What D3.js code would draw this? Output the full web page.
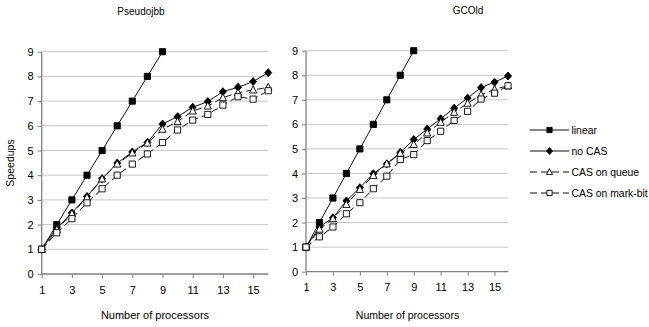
<!DOCTYPE html>
<html>
<head>
<meta charset="utf-8">
<script src="https://cdn.jsdelivr.net/npm/d3@7"></script>
<style>
  body { margin: 0; background: #fff; }
  text { font-family: "Liberation Sans", Arial, sans-serif; fill: #000; }
</style>
</head>
<body>
<svg id="chart" width="649" height="327"></svg>
<script>
// processors 1..16
const procs = d3.range(1, 17);
const xTicks = [1, 3, 5, 7, 9, 11, 13, 15];
const yTicks = [0, 1, 2, 3, 4, 5, 6, 7, 8, 9];

const seriesNames = ['linear', 'no CAS', 'CAS on queue', 'CAS on mark-bit'];

// Pseudojbb
const pjLinear = [1, 2, 3, 4, 5, 6, 7, 8, 9];
const pjNoCas = [1, 1.86, 2.47, 3.14, 3.86, 4.49, 4.94, 5.33, 6.07, 6.37, 6.75, 6.98, 7.38, 7.56, 7.79, 8.15];
const pjQueue = [1, 1.8, 2.45, 3.1, 3.85, 4.45, 4.9, 5.3, 5.86, 6.17, 6.6, 6.8, 7.14, 7.34, 7.45, 7.56];
const pjMarkBit = [1, 1.67, 2.24, 2.88, 3.45, 4.0, 4.45, 4.86, 5.32, 5.83, 6.23, 6.46, 6.84, 7.18, 7.08, 7.42];

// GCOld
const gcLinear = [1, 2, 3, 4, 5, 6, 7, 8, 9];
const gcNoCas = [1, 1.82, 2.2, 2.88, 3.42, 3.99, 4.39, 4.86, 5.38, 5.81, 6.23, 6.66, 7.07, 7.5, 7.72, 7.97];
const gcQueue = [1, 1.73, 2.16, 2.74, 3.35, 3.92, 4.39, 4.82, 5.18, 5.65, 6.08, 6.49, 6.86, 7.2, 7.43, 7.57];
const gcMarkBit = [1, 1.42, 1.82, 2.36, 2.81, 3.38, 3.89, 4.57, 4.77, 5.34, 5.72, 6.16, 6.53, 7.03, 7.27, 7.57];

const svg = d3.select('#chart');

const styles = [
  { marker: 'square', fill: '#000', dash: null },
  { marker: 'diamond', fill: '#000', dash: null },
  { marker: 'triangle', fill: '#fff', dash: '7,4' },
  { marker: 'square', fill: '#fff', dash: '7,4' }
];

function markerPath(type, s) {
  s = s || 1;
  if (type === 'square') return d3.symbol(d3.symbolSquare, 38 * s * s)();
  if (type === 'diamond') return `M0,${-4 * s}L${3.5 * s},0L0,${4 * s}L${-3.5 * s},0Z`;
  return `M0,${-4 * s}L${3.6 * s},${3 * s}L${-3.6 * s},${3 * s}Z`;
}

function drawPanel(cfg) {
  const x = d3.scaleLinear().domain([1, 16]).range([cfg.x0, cfg.x1]);
  const y = d3.scaleLinear().domain([0, 9]).range([cfg.y0, cfg.y1]);
  const g = svg.append('g');

  // grid
  g.selectAll('line.grid')
    .data(yTicks.filter(d => d > 0))
    .join('line')
    .attr('x1', x(1)).attr('x2', x(16))
    .attr('y1', d => y(d)).attr('y2', d => y(d))
    .attr('stroke', '#c8c8c8').attr('stroke-width', 1);

  // axes
  const ya = g.append('g')
    .attr('transform', `translate(${x(1)},0)`)
    .call(d3.axisLeft(y).tickValues(yTicks).tickSize(4).tickPadding(4).tickFormat(d3.format('d')));
  const xa = g.append('g')
    .attr('transform', `translate(0,${y(0)})`)
    .call(d3.axisBottom(x).tickValues(xTicks).tickSize(4).tickPadding(8).tickFormat(d3.format('d')));
  [ya, xa].forEach(a => {
    a.select('.domain').attr('stroke', '#808080').attr('stroke-width', 1.3);
    a.selectAll('.tick line').attr('stroke', '#808080');
    a.selectAll('text').attr('font-size', 11).attr('fill', '#000')
      .attr('font-family', '"Liberation Sans", Arial, sans-serif');
  });
  xa.select('.domain').attr('d', `M${x(1)},0H${x(16)}`);
  ya.select('.domain').attr('d', `M0,${y(0)}V${y(9)}`);

  const line = d3.line().x(d => x(d[0])).y(d => y(d[1]));

  cfg.series.forEach((vals, i) => {
    const pts = vals.map((v, j) => [j + 1, v]);
    const st = styles[i];
    g.append('path')
      .attr('d', line(pts))
      .attr('fill', 'none')
      .attr('stroke', '#111')
      .attr('stroke-width', 1)
      .attr('stroke-dasharray', st.dash);
  });
  cfg.series.forEach((vals, i) => {
    const pts = vals.map((v, j) => [j + 1, v]);
    const st = styles[i];
    g.selectAll(null)
      .data(pts)
      .join('path')
      .attr('transform', d => `translate(${x(d[0])},${y(d[1])})`)
      .attr('d', markerPath(st.marker))
      .attr('fill', st.fill)
      .attr('stroke', '#000')
      .attr('stroke-width', 0.9);
  });

  g.append('text')
    .attr('x', cfg.titleX).attr('y', cfg.titleY)
    .attr('text-anchor', 'middle').attr('font-size', 10)
    .text(cfg.title);
  g.append('text')
    .attr('x', cfg.xTitleX).attr('y', 319)
    .attr('text-anchor', 'middle').attr('font-size', cfg.xTitleSize)
    .text('Number of processors');
}

drawPanel({
  title: 'Pseudojbb', titleX: 141, titleY: 15, xTitleX: 155, xTitleSize: 11,
  x0: 41.7, x1: 268.2, y0: 274, y1: 51.7,
  series: [pjLinear, pjNoCas, pjQueue, pjMarkBit]
});
drawPanel({
  title: 'GCOld', titleX: 468, titleY: 14, xTitleX: 407.5, xTitleSize: 10.5,
  x0: 306, x1: 508, y0: 271.7, y1: 50.7,
  series: [gcLinear, gcNoCas, gcQueue, gcMarkBit]
});

svg.append('text')
  .attr('transform', 'translate(14,163) rotate(-90)')
  .attr('text-anchor', 'middle').attr('font-size', 10.5)
  .text('Speedups');

// legend
const legY = [130, 151, 172, 193];
const leg = svg.append('g');
seriesNames.forEach((name, i) => {
  const st = styles[i];
  const row = leg.append('g').attr('transform', `translate(0,${legY[i]})`);
  row.append('line')
    .attr('x1', 530).attr('x2', 569).attr('y1', 0).attr('y2', 0)
    .attr('stroke', '#111').attr('stroke-width', 1)
    .attr('stroke-dasharray', st.dash);
  row.append('path')
    .attr('transform', 'translate(549.5,0)')
    .attr('d', markerPath(st.marker, 0.85))
    .attr('fill', st.fill).attr('stroke', '#000').attr('stroke-width', 0.9);
  row.append('text')
    .attr('x', 571.5).attr('y', 3.7)
    .attr('font-size', 10.4)
    .text(name);
});
</script>
</body>
</html>
